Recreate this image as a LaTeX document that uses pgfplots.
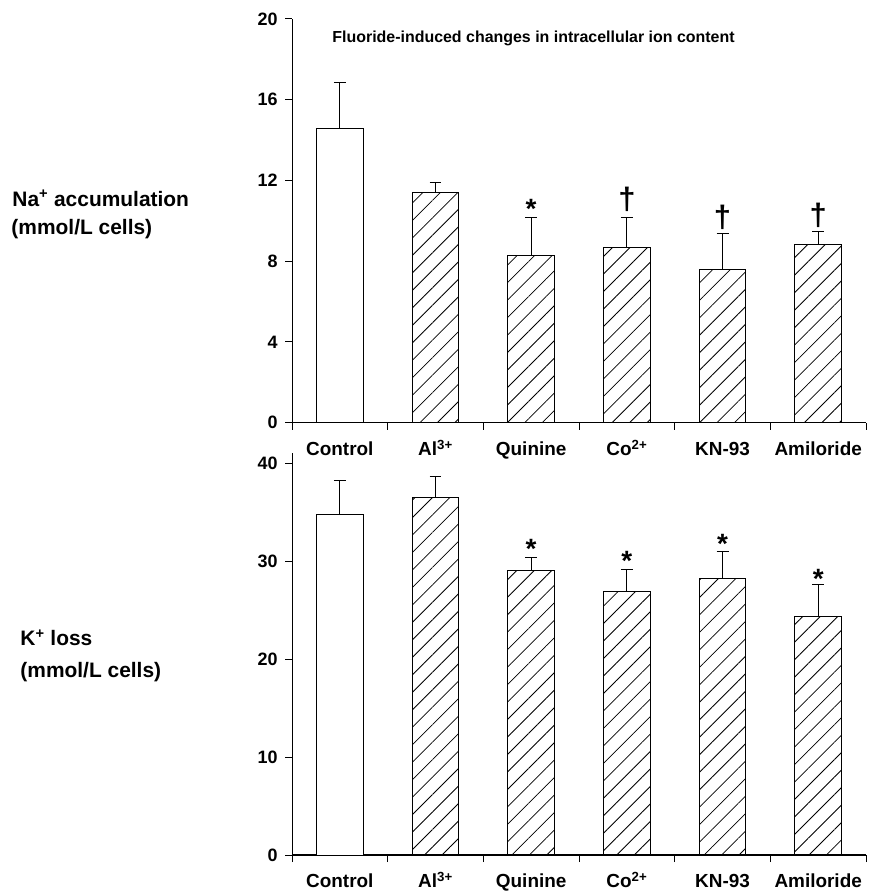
\documentclass[border=0pt]{standalone}
\usepackage{fontspec}
\setmainfont{Liberation Sans}
\usepackage{pgfplots}
\pgfplotsset{compat=1.18}
\usetikzlibrary{patterns.meta}

\pgfplotstableread{
x y ey
1 14.55 2.31
}\topC
\pgfplotstableread{
x y ey
2 11.41 0.51
3 8.30 1.86
4 8.67 1.49
5 7.57 1.78
6 8.81 0.67
}\topT
\pgfplotstableread{
x y ey
1 34.8 3.4
}\botC
\pgfplotstableread{
x y ey
2 36.5 2.1
3 29.1 1.3
4 26.9 2.3
5 28.2 2.8
6 24.4 3.2
}\botT

\newcommand\catfont{\fontsize{19}{22}\selectfont\bfseries}
\newcommand\titfont{\fontsize{16}{19}\selectfont\bfseries}
\newcommand\labfont{\fontsize{21}{24}\selectfont\bfseries}
\newcommand\numfont{\fontsize{18}{21}\selectfont\bfseries}
\newcommand\astfont{\fontsize{28}{30}\selectfont\bfseries}
\newcommand\dagfont{\fontsize{31}{33}\selectfont\bfseries}

\pgfplotsset{
  panel/.style={
    scale only axis, width=576pt,
    xmin=0.5, xmax=6.5, ymin=0, enlargelimits=false,
    ybar, bar width=47pt, bar shift=0pt,
    axis x line=bottom, axis y line=left, axis line style={-},
    x axis line style={line width=1.8pt},
    y axis line style={line width=1pt},
    tick align=outside,
    major tick length=7pt, minor tick length=7pt,
    xtick={1,...,6},
    xticklabels={Control, Al\textsuperscript{3+}, Quinine, Co\textsuperscript{2+}, KN-93, Amiloride},
    major x tick style={draw=none},
    minor xtick={0.5,1.5,...,6.5},
    minor x tick style={line width=1pt, black},
    ytick style={line width=1pt, black},
    /pgf/number format/assume math mode=true,
    xticklabel style={font=\catfont, anchor=base, yshift=-26pt},
    yticklabel style={font=\numfont, xshift=-4pt},
    clip=false,
  },
  ctrl/.style={fill=white, draw=black, line width=1pt,
    error bars/.cd, y dir=plus, y explicit,
    error bar style={line width=1pt, black},
    error mark options={rotate=90, mark size=6pt, line width=1pt, black}},
  trt/.style={draw=black, line width=1pt,
    pattern={Lines[angle=45,distance=12.4pt,line width=0.8pt]}, pattern color=black,
    error bars/.cd, y dir=plus, y explicit,
    error bar style={line width=1pt, black},
    error mark options={rotate=90, mark size=6pt, line width=1pt, black}},
}

\begin{document}
\begin{tikzpicture}[x=1pt,y=1pt]
\path (0,0) rectangle (879,-895);

% top panel
\begin{axis}[panel, at={(293pt,-424pt)}, anchor=south west,
  height=405pt, ymax=20, ytick={0,4,...,20}]
\addplot[ctrl] table[x=x,y=y,y error=ey] {\topC};
\addplot[trt] table[x=x,y=y,y error=ey] {\topT};
\node[font=\astfont, anchor=base, yshift=-1pt] at (axis cs:3,10.16) {*};
\node[font=\dagfont, anchor=base, yshift=8pt] at (axis cs:4,10.16) {†};
\node[font=\dagfont, anchor=base, yshift=6pt] at (axis cs:5,9.35) {†};
\node[font=\dagfont, anchor=base, yshift=6pt] at (axis cs:6,9.48) {†};
\end{axis}

% bottom panel
\begin{axis}[panel, at={(293pt,-858pt)}, anchor=south west,
  height=403pt, ymax=41, ytick={0,10,...,40}]
\addplot[ctrl] table[x=x,y=y,y error=ey] {\botC};
\addplot[trt] table[x=x,y=y,y error=ey] {\botT};
\node[font=\astfont, anchor=base, yshift=-1pt] at (axis cs:3,30.4) {*};
\node[font=\astfont, anchor=base, yshift=-1pt] at (axis cs:4,29.2) {*};
\node[font=\astfont, anchor=base, yshift=-2pt] at (axis cs:5,31.0) {*};
\node[font=\astfont, anchor=base, yshift=-4pt] at (axis cs:6,27.6) {*};
\end{axis}

\node[font=\titfont, anchor=base west] at (330,-43) {Fluoride-induced changes in intracellular ion content};
\node[font=\labfont, anchor=base west] at (9,-207) {Na\textsuperscript{+} accumulation};
\node[font=\labfont, anchor=base west] at (8,-235) {(mmol/L cells)};
\node[font=\labfont, anchor=base west] at (17,-648) {K\textsuperscript{+} loss};
\node[font=\labfont, anchor=base west] at (17,-680) {(mmol/L cells)};
\end{tikzpicture}
\end{document}
